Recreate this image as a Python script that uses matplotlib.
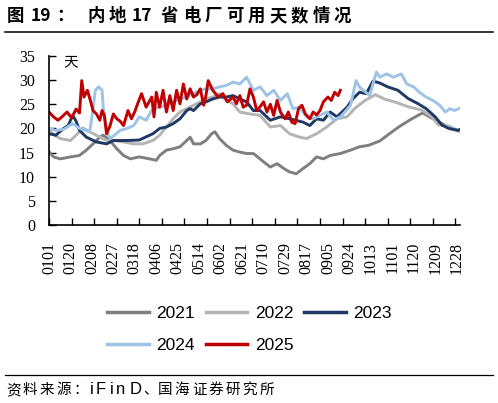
import matplotlib.pyplot as plt
from matplotlib.lines import Line2D

W, H = 498, 403

# x axis: day index in the year (0 = 0101)
tick_labels = ['0101', '0120', '0208', '0227', '0318', '0406', '0425', '0514', '0602', '0621',
               '0710', '0729', '0817', '0905', '0924', '1013', '1101', '1120', '1209', '1228']
label_days = [0, 19, 38, 57, 76, 95, 114, 133, 152, 171,
              190, 209, 228, 247, 266, 285, 304, 323, 342, 361]
mark_days = [0, 20, 40, 60, 80, 100, 120, 140, 160, 180,
             200, 220, 240, 260, 280, 300, 320, 340, 360]

days_2021 = [0, 4, 10, 19, 27, 33, 39, 45, 48, 54, 60, 66, 72, 80, 89, 95, 98, 104, 110, 116,
             122, 125, 128, 134, 139, 144, 147, 151, 157, 163, 169, 175, 181, 190, 196, 202, 208,
             213, 219, 225, 231, 237, 243, 249, 258, 267, 275, 283, 293, 302, 311, 320, 326, 331,
             337, 346, 355, 364]
vals_2021 = [15.2, 14.1, 13.7, 14.1, 14.4, 15.5, 16.8, 18.2, 18.6, 17.5, 15.8, 14.4, 13.7, 14.1,
             13.7, 13.4, 14.4, 15.5, 15.8, 16.2, 17.5, 18.2, 16.8, 16.8, 17.5, 18.9, 19.3, 17.9,
             16.5, 15.5, 15.1, 14.8, 14.8, 13.1, 12.0, 12.7, 11.7, 11.0, 10.6, 11.7, 12.7, 14.1,
             13.7, 14.4, 14.8, 15.5, 16.2, 16.5, 17.4, 19.0, 20.5, 21.8, 22.6, 23.2, 22.4, 21.2,
             20.2, 19.4]

days_2022 = [0, 5, 10, 19, 24, 30, 36, 42, 51, 57, 66, 75, 83, 92, 98, 104, 110, 116, 122, 128,
             134, 139, 145, 151, 157, 163, 169, 178, 187, 196, 205, 213, 222, 228, 237, 246, 255,
             264, 271, 280, 289, 298, 306, 318, 330, 339, 345, 354, 364]
vals_2022 = [19.6, 18.6, 17.9, 17.5, 18.6, 20.1, 19.3, 18.6, 17.5, 17.5, 17.2, 16.8, 16.8, 17.5,
             18.6, 20.3, 22.0, 23.4, 24.1, 24.8, 25.5, 26.1, 26.5, 27.2, 25.8, 25.1, 23.4, 23.0,
             22.7, 20.3, 20.6, 18.9, 18.2, 17.9, 18.9, 20.3, 22.0, 22.4, 24.2, 25.8, 27.0, 26.0,
             25.5, 24.5, 23.8, 22.4, 20.7, 20.5, 19.3]

days_2023 = [0, 6, 13, 17, 21, 24, 27, 33, 42, 51, 57, 69, 80, 92, 98, 104, 110, 116, 122, 125,
             128, 134, 139, 145, 151, 157, 163, 169, 175, 181, 187, 196, 205, 213, 225, 231, 237,
             243, 249, 255, 264, 269, 275, 281, 287, 293, 300, 309, 318, 327, 334, 342, 348, 354,
             362, 364]
vals_2023 = [18.9, 18.6, 20.0, 20.6, 22.7, 21.5, 19.6, 18.2, 17.2, 16.8, 17.5, 17.5, 17.6, 18.9,
             20.0, 20.3, 21.0, 22.0, 23.7, 24.1, 23.7, 25.1, 25.5, 26.1, 26.5, 26.5, 26.8, 26.1,
             25.5, 23.7, 23.7, 21.7, 22.4, 22.0, 21.3, 20.6, 22.0, 21.7, 23.4, 22.4, 24.4, 26.1,
             27.5, 27.2, 29.8, 29.4, 28.6, 27.9, 26.2, 25.1, 24.1, 22.4, 20.7, 20.0, 19.6, 19.8]

days_2024 = [0, 6, 13, 21, 27, 36, 39, 41, 44, 47, 48, 51, 54, 58, 63, 69, 75, 80, 86, 92, 98,
             104, 110, 116, 122, 128, 134, 139, 145, 151, 157, 163, 169, 175, 181, 187, 193, 199,
             205, 211, 216, 222, 228, 234, 240, 246, 252, 258, 262, 267, 272, 275, 280, 284, 290,
             293, 299, 305, 312, 317, 323, 328, 334, 340, 346, 351, 355, 359, 364]
vals_2024 = [20.0, 19.6, 19.8, 21.0, 20.0, 19.3, 24.0, 27.9, 28.6, 27.9, 24.4, 19.6, 17.9, 18.6,
             19.6, 20.0, 20.6, 22.4, 21.7, 24.1, 24.4, 24.8, 25.5, 26.1, 26.5, 27.2, 27.9, 28.2,
             28.2, 28.6, 28.9, 29.6, 29.2, 30.6, 27.9, 28.6, 26.8, 27.9, 25.8, 27.2, 24.1, 24.4,
             22.4, 22.0, 22.7, 23.4, 21.7, 22.4, 23.4, 24.8, 29.9, 28.6, 27.6, 26.8, 31.7, 30.6,
             31.3, 30.6, 31.3, 29.2, 28.6, 27.5, 26.5, 25.8, 24.8, 23.4, 24.1, 23.7, 24.2]

days_2025 = [0, 4, 8, 12, 16, 20, 24, 27, 29, 31, 34, 37, 39, 42, 45, 47, 49, 51, 54, 57, 60,
             63, 66, 70, 73, 76, 78, 82, 86, 91, 93, 95, 98, 101, 104, 107, 110, 113, 116, 119,
             122, 125, 128, 131, 134, 137, 139, 141, 145, 150, 154, 158, 163, 166, 169, 172, 175,
             178, 181, 184, 187, 190, 193, 196, 199, 202, 205, 209, 212, 215, 218, 221, 224, 227,
             231, 234, 237, 240, 243, 247, 250, 253, 256, 258]
vals_2025 = [23.4, 22.4, 21.7, 22.5, 23.4, 22.2, 24.0, 23.2, 29.9, 26.5, 27.9, 25.5, 23.7, 23.0,
             21.7, 23.7, 22.7, 18.9, 20.5, 23.0, 22.0, 21.5, 20.6, 23.7, 22.0, 23.5, 24.8, 27.2,
             24.4, 26.5, 22.4, 27.5, 24.4, 27.9, 23.4, 26.8, 23.7, 27.9, 25.1, 29.2, 26.1, 28.2,
             26.5, 27.0, 28.2, 24.8, 26.8, 29.9, 27.9, 26.5, 27.2, 25.5, 26.5, 25.1, 26.8, 24.4,
             24.8, 28.2, 26.5, 23.7, 24.5, 25.5, 23.4, 25.0, 22.7, 25.8, 23.4, 22.0, 23.4, 21.3,
             21.0, 24.1, 24.8, 23.0, 22.0, 23.4, 22.8, 23.7, 25.5, 26.5, 25.8, 27.5, 26.8, 27.9]

series = [
    ('2021', days_2021, vals_2021, '#7f7f7f'),
    ('2022', days_2022, vals_2022, '#b4b4b4'),
    ('2023', days_2023, vals_2023, '#1f3864'),
    ('2024', days_2024, vals_2024, '#9dc3e6'),
    ('2025', days_2025, vals_2025, '#c00000'),
]

cjk = ['Noto Sans CJK SC', 'DejaVu Sans']
plt.rcParams['font.family'] = ['Liberation Serif', 'DejaVu Serif']

fig = plt.figure(figsize=(W / 100, H / 100), dpi=100)
ax = fig.add_axes([49 / W, 1 - 225 / H, (460 - 49) / W, (225 - 56) / H])

for name, d, v, c in series:
    ax.plot(d, v, color=c, lw=2.1, label=name, solid_joinstyle='round')

ax.xaxis.remove_overlapping_locs = False
ax.set_xlim(0, 364)
ax.set_ylim(0, 35)
ax.set_yticks(range(0, 36, 5))
ax.set_xticks(mark_days)
ax.set_xticks(label_days, minor=True)
ax.set_xticklabels(tick_labels, minor=True, rotation=90, fontsize=11.5)
ax.tick_params(axis='x', which='major', direction='in', length=5, width=1, labelbottom=False)
ax.tick_params(axis='x', which='minor', length=0, pad=12)
ax.tick_params(axis='y', direction='in', length=5, width=1, pad=10, labelsize=11.5)
for s in ['top', 'right']:
    ax.spines[s].set_visible(False)
for s in ['left', 'bottom']:
    ax.spines[s].set_linewidth(1.2)

ax.text(13, 33.8, '天', family=cjk, fontsize=10.5, va='center', ha='left')

# legend, filled so rows read 2021 2022 2023 / 2024 2025
order = [0, 3, 1, 4, 2]
handles = [Line2D([], [], color=series[i][3], lw=2.5) for i in order]
names = [series[i][0] for i in order]
fig.legend(handles, names, loc='upper left', bbox_to_anchor=(107 / W, 1 - 306 / H), ncol=3,
           frameon=False, handlelength=2.4, handletextpad=0.45, columnspacing=0.6,
           labelspacing=0.95, borderpad=0, borderaxespad=0,
           prop={'family': 'Liberation Sans', 'size': 12.5})


def put(x, y, s, size, weight='normal', family=cjk):
    fig.text(x / W, 1 - y / H, s, family=family, fontsize=size, weight=weight,
             va='center', ha='left')


# title, wide letter spacing
put(7, 16, '图', 12.5, 'bold')
put(31, 16, '19', 12.5, 'bold')
put(56, 16, '：', 12.5, 'bold')
put(87, 16, '内', 12.5, 'bold')
put(109, 16, '地', 12.5, 'bold')
put(132, 16, '17', 12.5, 'bold')
for i, ch in enumerate('省电厂可用天数情况'):
    put(161 + i * 21.6, 16, ch, 12.5, 'bold')

# source line
for i, ch in enumerate('资料来源：'):
    put(6 + i * 16.8, 390, ch, 10.5)
for x, ch in zip([90, 96, 109.5, 115.5, 129.5], 'iFinD'):
    put(x, 390, ch, 12, family=['Liberation Sans'])
put(143, 390, '、', 10.5)
for i, ch in enumerate('国海证券研究所'):
    put(158 + i * 16.9, 390, ch, 10.5)

fig.add_artist(Line2D([5 / W, 493 / W], [1 - 31.5 / H, 1 - 31.5 / H], color='black', lw=1.1))
fig.add_artist(Line2D([5 / W, 493 / W], [1 - 375 / H, 1 - 375 / H], color='black', lw=0.9))

fig.savefig('out.png', dpi=100)
